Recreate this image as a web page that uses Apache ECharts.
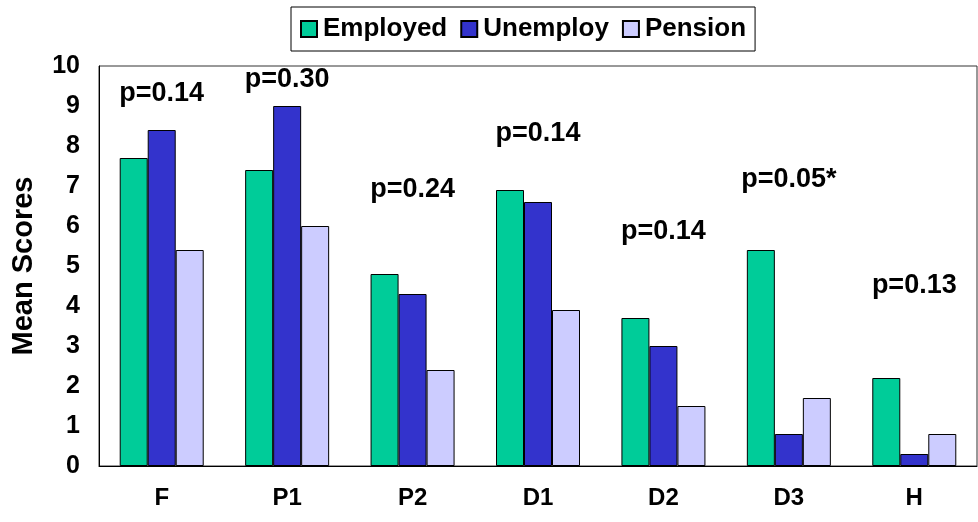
<!DOCTYPE html>
<html>
<head>
<meta charset="utf-8">
<script src="https://cdn.jsdelivr.net/npm/echarts@6/dist/echarts.min.js"></script>
<style>
html,body{margin:0;padding:0;background:#fff;}
#chart{width:978px;height:522px;}
</style>
</head>
<body>
<div id="chart"></div>
<script>
var categories = ['F', 'P1', 'P2', 'D1', 'D2', 'D3', 'H'];
var employed = [7.7, 7.4, 4.8, 6.9, 3.7, 5.4, 2.2];
var unemploy = [8.4, 9.0, 4.3, 6.6, 3.0, 0.8, 0.3];
var pension = [5.4, 6.0, 2.4, 3.9, 1.5, 1.7, 0.8];
var pLabels = ['p=0.14', 'p=0.30', 'p=0.24', 'p=0.14', 'p=0.14', 'p=0.05*', 'p=0.13'];
var pLabelY = [9.3, 9.65, 6.9, 8.3, 5.85, 7.15, 4.5];
var yTicks = [0, 1, 2, 3, 4, 5, 6, 7, 8, 9, 10];

var FONT = '"Liberation Sans", Arial, sans-serif';
var chart = echarts.init(document.getElementById('chart'), null, {renderer: 'canvas'});

var barBase = {
  type: 'bar',
  barWidth: 28,
  barGap: '0%'
};

chart.setOption({
  animation: false,
  backgroundColor: '#fff',
  textStyle: {fontFamily: FONT},
  legend: {
    data: ['Employed', 'Unemploy', 'Pension'],
    left: 291,
    top: 7,
    orient: 'horizontal',
    itemWidth: 16,
    itemHeight: 16,
    itemGap: 13,
    padding: [9, 9, 9, 9],
    borderColor: '#000',
    borderWidth: 1,
    icon: 'rect',
    textStyle: {fontFamily: FONT, fontSize: 26, fontWeight: 'bold', color: '#000', padding: [0, 0, 0, 1]}
  },
  grid: {
    left: 99, right: 1, top: 66, bottom: 56,
    containLabel: false,
    outerBoundsMode: 'none',
    show: true, borderColor: '#333', borderWidth: 1
  },
  xAxis: {
    type: 'category',
    data: categories,
    axisLine: {lineStyle: {color: '#000', width: 1}},
    axisTick: {show: false},
    axisLabel: {fontFamily: FONT, fontSize: 24, fontWeight: 'bold', color: '#000', margin: 20}
  },
  yAxis: {
    type: 'value',
    min: 0, max: 10, interval: 1,
    name: 'Mean Scores',
    nameLocation: 'middle',
    nameGap: 61,
    nameRotate: 90,
    nameTextStyle: {fontFamily: FONT, fontSize: 29, fontWeight: 'bold', color: '#000'},
    axisLine: {show: true, lineStyle: {color: '#000', width: 1}},
    axisTick: {show: false},
    splitLine: {show: false},
    axisLabel: {
      fontFamily: FONT, fontSize: 25, fontWeight: 'bold', color: '#000', margin: 19,
      formatter: function (v) { return yTicks.indexOf(v) >= 0 ? String(v) : ''; }
    }
  },
  series: [
    Object.assign({}, barBase, {name: 'Employed', data: employed, itemStyle: {color: '#00CC99', borderColor: '#000', borderWidth: 1}}),
    Object.assign({}, barBase, {name: 'Unemploy', data: unemploy, itemStyle: {color: '#3333CC', borderColor: '#000', borderWidth: 1}}),
    Object.assign({}, barBase, {name: 'Pension', data: pension, itemStyle: {color: '#CCCCFF', borderColor: '#000', borderWidth: 1}}),
    {
      name: 'p',
      type: 'scatter',
      symbolSize: 0,
      itemStyle: {color: '#fff', opacity: 1},
      silent: true,
      data: categories.map(function (c, i) { return [c, pLabelY[i]]; }),
      label: {
        show: true,
        position: [0, 0],
        align: 'center',
        verticalAlign: 'middle',
        opacity: 1,
        formatter: function (p) { return pLabels[p.dataIndex]; },
        fontFamily: FONT, fontSize: 27, fontWeight: 'bold', color: '#000'
      }
    }
  ]
});
</script>
</body>
</html>
